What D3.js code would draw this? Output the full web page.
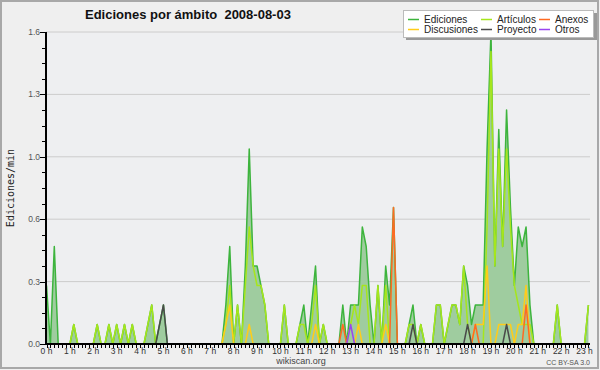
<!DOCTYPE html>
<html>
<head>
<meta charset="utf-8">
<script src="https://cdnjs.cloudflare.com/ajax/libs/d3/7.8.5/d3.min.js"></script>
<style>
body { margin: 0; background: #efefef; }
text { font-family: "Liberation Sans", Arial, sans-serif; }
</style>
</head>
<body>
<svg id="chart" width="600" height="370"></svg>
<script>
// ediciones por minuto, una muestra cada 10 minutos (6 por hora)
var ediciones = [
 0.3,0,0.5,0,0,0,
 0,0.1,0,0,0,0,
 0,0.1,0,0,0.1,0,
 0.1,0,0.1,0,0.1,0,
 0,0,0.1,0.2,0,0.1,
 0.2,0,0,0,0,0,
 0,0,0,0,0,0,
 0,0,0,0,0.2,0.5,
 0,0.2,0,0.4,1.0,0.4,
 0.4,0.3,0.2,0,0,0,
 0,0.2,0,0,0,0.1,
 0.2,0,0.2,0.4,0,0.1,
 0,0,0,0,0.2,0,
 0.2,0.2,0.2,0.6,0.5,0.2,
 0,0.3,0,0.4,0.2,0.7,
 0,0,0,0.1,0.2,0,
 0.1,0,0,0,0.2,0.2,
 0,0.1,0.2,0.2,0.1,0.4,
 0.3,0.1,0.2,0.2,0.2,1.0,
 1.6,0.4,1.1,0.5,1.2,0.7,
 0.3,0.6,0.5,0.6,0.2,0,
 0,0,0,0,0,0.2,
 0,0,0,0,0,0,
 0,0.2]

var articulos = [
 0,0,0,0,0,0,
 0,0.1,0,0,0,0,
 0,0.1,0,0,0.1,0,
 0.1,0,0.1,0,0.1,0,
 0,0,0.1,0.2,0,0,
 0,0,0,0,0,0,
 0,0,0,0,0,0,
 0,0,0,0,0.1,0.3,
 0,0.2,0,0.3,0.6,0.4,
 0.3,0.3,0.2,0,0,0,
 0,0.2,0,0,0,0.1,
 0.1,0,0.1,0.3,0,0.1,
 0,0,0,0,0,0,
 0.1,0.2,0.1,0.3,0.3,0,
 0,0.3,0,0.3,0,0,
 0,0,0,0.1,0.1,0,
 0.1,0,0,0,0.2,0.2,
 0,0.1,0.2,0.2,0.1,0.4,
 0.1,0,0,0,0,0.6,
 1.5,0.4,1.0,0.5,1.0,0.6,
 0.3,0.2,0.1,0.1,0.1,0,
 0,0,0,0,0,0.2,
 0,0,0,0,0,0,
 0,0.2]

var discusiones = [
 0,0,0,0,0,0, 0,0,0,0,0,0, 0,0,0,0,0,0, 0,0,0,0,0,0,
 0,0,0,0,0,0, 0,0,0,0,0,0, 0,0,0,0,0,0,
 0,0,0,0,0.1,0.2,
 0,0,0,0,0.1,0,
 0,0,0,0,0,0,
 0,0,0,0,0,0,
 0,0,0,0.1,0,0,
 0,0,0,0,0,0,
 0,0,0.1,0,0,0,
 0,0,0,0.1,0,0,
 0,0,0,0,0,0, 0,0,0,0,0,0, 0,0,0,0,0,0,
 0,0,0.1,0.1,0.1,0.4,
 0,0,0.1,0.1,0.1,0.1,
 0,0.1,0.1,0.3,0,0,
 0,0,0,0,0,0, 0,0,0,0,0,0,
 0,0]

var anexos = d3.range(140).map(function(){ return 0 })
anexos[76] = 0.1; anexos[89] = 0.7; anexos[110] = 0.1; anexos[123] = 0.2

var proyecto = d3.range(140).map(function(){ return 0 })
proyecto[29] = 0.1; proyecto[30] = 0.2; proyecto[94] = 0.1; proyecto[108] = 0.1; proyecto[118] = 0.1

var otros = d3.range(140).map(function(){ return 0 })
otros[78] = 0.1

var hourLabels = d3.range(0, 24)
var yTicks = [0, 0.32, 0.64, 0.96, 1.28, 1.6]

var names = ["Ediciones", "Artículos", "Anexos", "Discusiones", "Proyecto", "Otros"]
var colors = ["#3db43d", "#a6e61c", "#ff6a22", "#ffcc1a", "#4a4a4a", "#9a44f0"]
var values = [ediciones, articulos, anexos, discusiones, proyecto, otros]

var svg = d3.select("#chart")

svg.append("rect").attr("x", 1).attr("y", 1).attr("width", 597).attr("height", 367)
    .attr("fill", "#efefef").attr("stroke", "#a8a8a8").attr("stroke-width", 2)

var x = d3.scaleLinear().domain([0, 139.4]).range([46.5, 590])
var y = d3.scaleLinear().domain([0, 1.6]).range([344, 32])

svg.append("rect").attr("x", 46).attr("y", 32).attr("width", 544).attr("height", 312).attr("fill", "#eeeff1")

// grid
svg.append("g").selectAll("line").data(yTicks.slice(1)).enter().append("line")
    .attr("x1", 46).attr("x2", 590)
    .attr("y1", function(d){ return y(d) }).attr("y2", function(d){ return y(d) })
    .attr("stroke", "#cccccc").attr("stroke-width", 1)

var area = d3.area()
    .x(function(d, i){ return x(i) })
    .y0(y(0))
    .y1(function(d){ return y(d) })

svg.append("path").datum(ediciones).attr("d", area).attr("fill", "#9fcc9f")

var line = d3.line()
    .x(function(d, i){ return x(i) })
    .y(function(d){ return y(d) })

// draw order: total first, then namespaces
var order = [0, 1, 3, 2, 4, 5]
svg.append("g").selectAll("path").data(order).enter().append("path")
    .attr("d", function(k){ return line(values[k]) })
    .attr("fill", "none")
    .attr("stroke", function(k){ return colors[k] })
    .attr("stroke-width", 1.5)
    .attr("stroke-linejoin", "round")

// y axis
var yAxis = svg.append("g")
yAxis.selectAll(".minor").data(d3.range(0, 1.601, 0.08)).enter().append("line")
    .attr("x1", 42).attr("x2", 46)
    .attr("y1", function(d){ return Math.round(y(d)) + 0.5 }).attr("y2", function(d){ return Math.round(y(d)) + 0.5 })
    .attr("stroke", "#000")
yAxis.selectAll(".major").data(yTicks).enter().append("line")
    .attr("x1", 40).attr("x2", 46)
    .attr("y1", function(d){ return Math.round(y(d)) + 0.5 }).attr("y2", function(d){ return Math.round(y(d)) + 0.5 })
    .attr("stroke", "#000")
yAxis.selectAll("text").data(yTicks).enter().append("text")
    .attr("x", 40).attr("y", function(d){ return y(d) + 3 })
    .attr("text-anchor", "end").attr("font-size", 8.5).attr("fill", "#555")
    .text(function(d){ return d3.format(".1f")(d) })

// x axis
var xAxis = svg.append("g")
xAxis.selectAll(".minor").data(d3.range(0, 140)).enter().append("line")
    .attr("x1", function(d){ return Math.round(x(d)) + 0.5 }).attr("x2", function(d){ return Math.round(x(d)) + 0.5 })
    .attr("y1", 344).attr("y2", 348)
    .attr("stroke", "#000")
xAxis.selectAll("text").data(hourLabels).enter().append("text")
    .attr("x", function(d){ return x(d * 6) }).attr("y", 354)
    .attr("text-anchor", "middle").attr("font-size", 8.5).attr("fill", "#333")
    .text(function(d){ return d + " h" })

svg.append("line").attr("x1", 46).attr("x2", 46).attr("y1", 32).attr("y2", 345).attr("stroke", "#000").attr("stroke-width", 2)
svg.append("line").attr("x1", 45).attr("x2", 590).attr("y1", 344).attr("y2", 344).attr("stroke", "#000").attr("stroke-width", 2)

// titles
svg.append("text").attr("x", 85).attr("y", 18.5)
    .attr("font-size", 13).attr("font-weight", "bold").attr("fill", "#111")
    .style("white-space", "pre")
    .text("Ediciones por ámbito  2008-08-03")

svg.append("text").attr("transform", "translate(14,188) rotate(-90)")
    .attr("text-anchor", "middle").attr("font-size", 10).attr("fill", "#222")
    .style("font-family", "'DejaVu Sans Mono', monospace")
    .text("Ediciones/min")

svg.append("text").attr("x", 301).attr("y", 364).attr("text-anchor", "middle")
    .attr("font-size", 9).attr("fill", "#444").text("wikiscan.org")
svg.append("text").attr("x", 590).attr("y", 365).attr("text-anchor", "end")
    .attr("font-size", 7).attr("fill", "#555").text("CC BY-SA 3.0")

// legend
var legend = svg.append("g")
legend.append("rect").attr("x", 406).attr("y", 13).attr("width", 191).attr("height", 27).attr("fill", "#999")
legend.append("rect").attr("x", 403.5).attr("y", 10.5).attr("width", 190).attr("height", 27)
    .attr("fill", "#fff").attr("stroke", "#bbb")
var colX = [408, 481, 539]
var rowY = [19.5, 29.5]
var items = legend.selectAll(".item").data(names).enter().append("g")
    .attr("transform", function(d, i){ return "translate(" + colX[i % 3] + "," + rowY[Math.floor(i / 3)] + ")" })
items.append("line").attr("x1", 0).attr("x2", 11).attr("y1", 0).attr("y2", 0)
    .attr("stroke", function(d, i){ return colors[i] }).attr("stroke-width", 1.5)
items.append("text").attr("x", 16).attr("y", 3.5).attr("font-size", 10).attr("fill", "#222")
    .text(function(d){ return d })
</script>
</body>
</html>
